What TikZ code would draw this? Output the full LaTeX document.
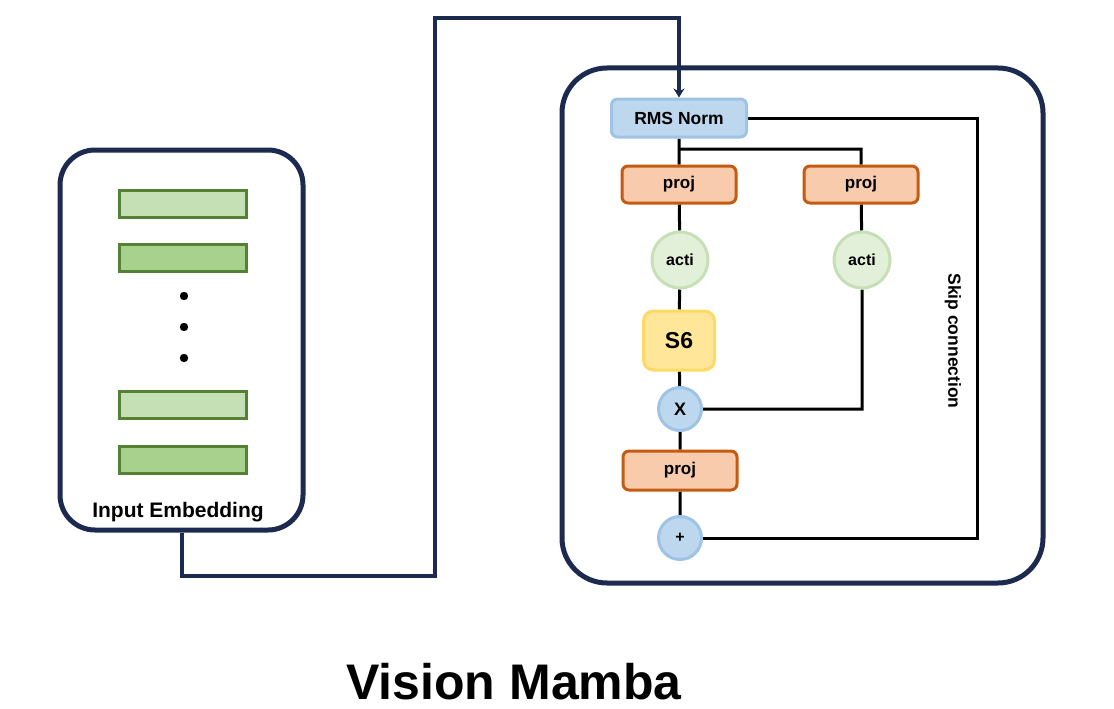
\documentclass[tikz,border=0pt]{standalone}
\usepackage{fontspec}
\setmainfont{Liberation Sans}
\usepackage{tikz}
\usetikzlibrary{arrows.meta,backgrounds}
\definecolor{navy}{HTML}{1B2A4E}
\definecolor{leafdark}{HTML}{548235}
\definecolor{leaflight}{HTML}{C5E0B4}
\definecolor{leafmid}{HTML}{A9D18E}
\definecolor{rust}{HTML}{C55A11}
\definecolor{peach}{HTML}{F8CBAD}
\definecolor{sky}{HTML}{BDD7EE}
\definecolor{skyline}{HTML}{9DC3E6}
\definecolor{mint}{HTML}{E2F0D9}
\definecolor{butter}{HTML}{FFE699}
\definecolor{butterline}{HTML}{FFD966}
\tikzset{%
    frame/.style={draw=navy, line width=5pt, rounded corners=#1, inner sep=0pt},
    token/.style={draw=leafdark, fill=#1, line width=3pt, minimum width=127, minimum height=27, inner sep=0pt},
    projbox/.style={draw=rust, fill=peach, line width=3pt, rounded corners=6pt,
        minimum width=114, minimum height=37, inner sep=0pt, font=\bfseries\fontsize{17}{17}\selectfont},
    actinode/.style={circle, draw=leaflight, fill=mint, line width=3pt, minimum size=56, inner sep=0pt,
        font=\bfseries\fontsize{16}{16}\selectfont},
    opnode/.style={circle, draw=skyline, fill=sky, line width=3pt, minimum size=43, inner sep=0pt,
        font=\bfseries\fontsize{#1}{#1}\selectfont},
    wire/.style={draw=black, line width=3pt}
}
\begin{document}
\begin{tikzpicture}[x=1pt,y=-1pt]
    \useasboundingbox (0,0) rectangle (1114,709);
    % input side
    \node[frame=35pt, minimum width=243, minimum height=380] (emb) at (181.5,340) {};
    \foreach \y/\c/\n in {203.5/leaflight/1,258/leafmid/2,405/leaflight/3,459.5/leafmid/4}
    {
    \node[token=\c] (tok\n) at (182.5,\y) {};
    }
    \foreach \y in {296,327,358}
    {
    \fill (184,\y) circle (4.2pt);
    }
    \node[font=\bfseries\fontsize{21}{21}\selectfont] (embtxt) at (178,512) {Input Embedding};
    % mamba block
    \node[frame=45pt, minimum width=481, minimum height=515] (blk) at (802.5,325.5) {};
    \node[draw=skyline, fill=sky, line width=3pt, rounded corners=6pt, minimum width=135, minimum height=38,
        inner sep=0pt, font=\bfseries\fontsize{17.5}{17.5}\selectfont] (rms) at (679,118) {RMS Norm};
    \node[projbox] (p1) at (679,184.5) {proj};
    \node[projbox] (p2) at (861,184.5) {proj};
    \node[actinode] (a1) at (680,260) {acti};
    \node[actinode] (a2) at (862,260) {acti};
    \node[draw=butterline, fill=butter, line width=3pt, rounded corners=10pt, minimum width=71, minimum height=59,
        inner sep=0pt, font=\bfseries\fontsize{23}{23}\selectfont] (s6) at (679,340.5) {S6};
    \node[opnode=18] (mx) at (680,409) {X};
    \node[projbox, minimum height=39] (p3) at (680,470.5) {proj};
    \node[opnode=16] (pl) at (680,538) {+};
    \node[rotate=-90, font=\bfseries\fontsize{17.5}{17.5}\selectfont] (skiptxt) at (953,341) {Skip connection};
    \coordinate (split) at (679,149);
    \coordinate (skip) at (977,538);
    \coordinate (bendlow) at (435,576);
    \coordinate (bendtop) at (435,18);
    \begin{scope}[on background layer]
    \draw[wire] (rms) -- (p1) -- (a1) -- (s6) -- (mx) -- (p3) -- (pl);
    \draw[wire] (split) -| (p2) -- (a2) |- (mx);
    \draw[wire] (rms.east) -| (skip) -- (pl);
    \end{scope}
    \draw[navy, line width=4pt, -{Stealth[length=9pt,width=11pt]}] (emb.south) |- (bendlow) -- (bendtop) -| (rms.north);
    \node[anchor=base, inner sep=0pt, font=\bfseries\fontsize{50}{50}\selectfont] (title) at (514,699) {Vision Mamba};
\end{tikzpicture}
\end{document}
